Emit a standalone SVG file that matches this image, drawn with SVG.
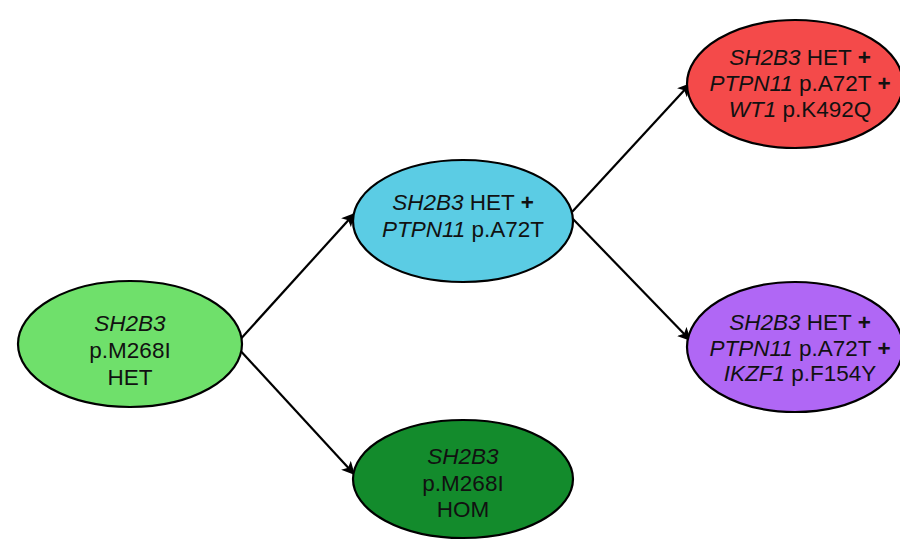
<svg xmlns="http://www.w3.org/2000/svg" width="900" height="541" viewBox="0 0 900 541">
  <defs>
    <marker id="arrow" viewBox="0 0 10 10" refX="9" refY="5" markerWidth="6" markerHeight="6" markerUnits="strokeWidth" orient="auto">
      <path d="M0,0 L10,5 L0,10 L2.5,5 Z" fill="#000"/>
    </marker>
  </defs>
  <style>
    .node { stroke: #000; stroke-width: 2.2; }
    .lbl { font-family: "Liberation Sans", Arial, sans-serif; font-size: 22.5px; fill: #111; text-anchor: middle; }
    .it { font-style: italic; }
    .b { font-weight: bold; }
    .edge { stroke: #000; stroke-width: 2.2; fill: none; marker-end: url(#arrow); }
  </style>
  <rect width="900" height="541" fill="#fff"/>

  <g id="connectors">
    <line class="edge" x1="237" y1="343" x2="354" y2="214"/>
    <line class="edge" x1="237" y1="347" x2="354" y2="474"/>
    <line class="edge" x1="572" y1="212" x2="690" y2="84"/>
    <line class="edge" x1="572" y1="218" x2="690" y2="340"/>
  </g>

  <g id="het">
    <ellipse class="node" cx="130" cy="344" rx="112" ry="63" fill="#6FE06B"/>
    <text class="lbl" x="130" y="331"><tspan class="it">SH2B3</tspan></text>
    <text class="lbl" x="130" y="358">p.M268I</text>
    <text class="lbl" x="130" y="385">HET</text>
  </g>

  <g id="het-ptpn11">
    <ellipse class="node" cx="463" cy="221" rx="110" ry="61" fill="#5BCCE4"/>
    <text class="lbl" x="463" y="210"><tspan class="it">SH2B3</tspan> HET <tspan class="b">+</tspan></text>
    <text class="lbl" x="463" y="237"><tspan class="it">PTPN11</tspan> p.A72T</text>
  </g>

  <g id="het-ptpn11-wt1">
    <ellipse class="node" cx="795" cy="84" rx="108" ry="64" fill="#F44A4A"/>
    <text class="lbl" x="800" y="65"><tspan class="it">SH2B3</tspan> HET <tspan class="b">+</tspan></text>
    <text class="lbl" x="800" y="91"><tspan class="it">PTPN11</tspan> p.A72T <tspan class="b">+</tspan></text>
    <text class="lbl" x="800" y="117"><tspan class="it">WT1</tspan> p.K492Q</text>
  </g>

  <g id="het-ptpn11-ikzf1">
    <ellipse class="node" cx="795" cy="347" rx="108" ry="65" fill="#B067F5"/>
    <text class="lbl" x="800" y="330"><tspan class="it">SH2B3</tspan> HET <tspan class="b">+</tspan></text>
    <text class="lbl" x="800" y="356"><tspan class="it">PTPN11</tspan> p.A72T <tspan class="b">+</tspan></text>
    <text class="lbl" x="800" y="381"><tspan class="it">IKZF1</tspan> p.F154Y</text>
  </g>

  <g id="hom">
    <ellipse class="node" cx="463" cy="479" rx="110" ry="59" fill="#138B2C"/>
    <text class="lbl" x="463" y="464"><tspan class="it">SH2B3</tspan></text>
    <text class="lbl" x="463" y="491">p.M268I</text>
    <text class="lbl" x="463" y="517">HOM</text>
  </g>
</svg>
